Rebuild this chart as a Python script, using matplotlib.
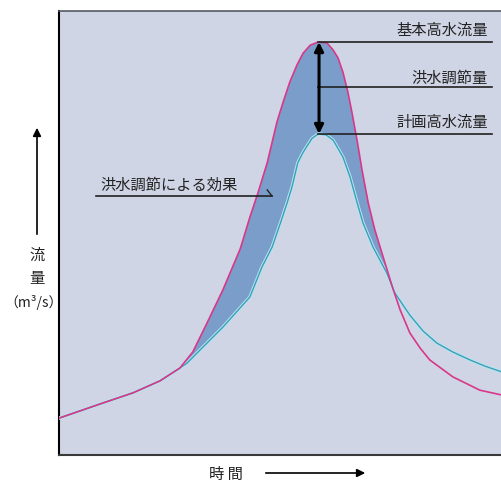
import matplotlib
matplotlib.use('Agg')
import matplotlib.pyplot as plt
import numpy as np

plt.rcParams['font.family'] = ['Noto Sans CJK JP', 'DejaVu Sans']

# basic high-water hydrograph (before flood control)
t_basic = [0.0, 9.3, 16.7, 22.8, 27.3, 30.2, 33.4, 37.0, 40.9, 43.1, 44.9, 47.0,
           49.2, 50.6, 52.1, 53.7, 55.1, 56.7, 58.5, 60.5, 61.9, 63.0, 64.1, 65.2,
           66.1, 66.8, 67.3, 68.4, 69.8, 71.3, 73.6, 75.4, 77.0, 79.2, 81.5, 83.7,
           88.9, 95.0, 100.0]
q_basic = [8.3, 11.5, 14.0, 16.7, 19.6, 23.2, 29.7, 37.2, 46.4, 53.6, 59.0, 65.8,
           75.0, 79.5, 84.0, 87.8, 90.5, 92.3, 93.0, 92.8, 91.2, 89.4, 86.2, 81.8,
           77.3, 73.5, 70.8, 64.2, 56.8, 50.7, 43.2, 37.4, 32.7, 27.5, 24.1, 21.4,
           17.6, 14.6, 13.5]

# planned high-water hydrograph (after flood control)
t_plan = [0.0, 9.3, 16.7, 22.8, 27.3, 28.9, 31.8, 37.0, 43.1, 45.8, 48.1, 50.0,
          51.5, 52.6, 53.9, 55.0, 56.0, 57.1, 58.5, 60.3, 61.9, 64.1, 65.7, 67.3,
          68.6, 70.9, 74.0, 75.8, 79.2, 82.2, 85.3, 88.9, 92.8, 96.2, 100.0]
q_plan = [8.3, 11.5, 14.0, 16.7, 19.6, 20.7, 23.6, 28.8, 35.6, 42.3, 46.8, 52.3,
          56.8, 60.4, 65.8, 68.0, 69.6, 71.3, 72.3, 72.1, 70.9, 67.1, 62.6, 56.8,
          52.3, 46.8, 41.0, 36.5, 31.5, 27.9, 25.2, 23.2, 21.4, 20.0, 18.7]

t_cross = 75.4  # where the two curves meet on the falling limb

label_basic = '基本高水流量'
label_control = '洪水調節量'
label_plan = '計画高水流量'
label_effect = '洪水調節による効果'

t_basic = np.array(t_basic)
q_basic = np.array(q_basic)
t_plan = np.array(t_plan)
q_plan = np.array(q_plan)

fig = plt.figure(figsize=(5.02, 4.84), dpi=100)
fig.patch.set_facecolor('white')
ax = fig.add_axes([59 / 502, 29 / 484, 443 / 502, 444 / 484])
ax.set_facecolor('#d0d5e5')
ax.set_xlim(0, 100)
ax.set_ylim(0, 100)
ax.set_xticks([])
ax.set_yticks([])
ax.spines['right'].set_visible(False)
ax.spines['left'].set_color('black')
ax.spines['left'].set_linewidth(1.5)
ax.spines['bottom'].set_color('#3a3a3a')
ax.spines['bottom'].set_linewidth(1.5)
ax.spines['top'].set_color('#555a66')
ax.spines['top'].set_linewidth(1.2)

# shaded area = effect of flood control
mb = t_basic <= t_cross
mp = t_plan <= t_cross
poly_t = np.concatenate([t_basic[mb], t_plan[mp][::-1]])
poly_q = np.concatenate([q_basic[mb], q_plan[mp][::-1]])
ax.fill(poly_t, poly_q, color='#7b9dca', lw=0, zorder=2)

ax.plot(t_plan, q_plan, color='#b8e4f0', lw=2.4, zorder=3)
ax.plot(t_plan, q_plan, color='#3a9fb8', lw=1.0, zorder=4)
ax.plot(t_basic, q_basic, color='#d8388a', lw=1.2, zorder=5)

# annotations on the right
peak_t = t_basic[np.argmax(q_basic)]
q_top = q_basic.max()
q_bot = q_plan.max()
q_mid = 82.9
ax.plot([peak_t, 97.7], [q_top, q_top], color='#222222', lw=1.2, zorder=6)
ax.plot([peak_t, 97.7], [q_mid, q_mid], color='#222222', lw=1.2, zorder=6)
ax.plot([peak_t, 97.7], [q_bot, q_bot], color='#222222', lw=1.2, zorder=6)
ax.annotate('', xy=(peak_t + 0.2, q_bot), xytext=(peak_t + 0.2, q_top),
            arrowprops=dict(arrowstyle='<|-|>', lw=2.2, color='black',
                            mutation_scale=13, shrinkA=0, shrinkB=0), zorder=7)
ax.text(96.8, 95.7, label_basic, ha='right', va='center', fontsize=11, color='#222222')
ax.text(96.8, 84.9, label_control, ha='right', va='center', fontsize=11, color='#222222')
ax.text(96.8, 75.0, label_plan, ha='right', va='center', fontsize=11, color='#222222')

# effect label with leader line
ax.text(9.3, 60.8, label_effect, ha='left', va='center', fontsize=11, color='#222222')
ax.plot([8.4, 48.1], [58.3, 58.3], color='#222222', lw=1.2, zorder=6)
ax.plot([47.0, 48.1], [59.7, 58.3], color='#222222', lw=1.0, zorder=6)

# axis labels outside the frame
fig.text(37 / 502, 1 - 255 / 484, '流', ha='center', va='center', fontsize=11, color='#222222')
fig.text(37 / 502, 1 - 278 / 484, '量', ha='center', va='center', fontsize=11, color='#222222')
fig.text(34 / 502, 1 - 302 / 484, '（m³/s）', ha='center', va='center', fontsize=10, color='#222222')
fig.add_artist(matplotlib.patches.FancyArrowPatch(
    (37 / 502, 1 - 237 / 484), (37 / 502, 1 - 125 / 484), transform=fig.transFigure,
    arrowstyle='-|>', mutation_scale=12, lw=1.2, color='black'))

fig.text(226 / 502, 1 - 474 / 484, '時 間', ha='center', va='center', fontsize=11, color='#222222')
fig.add_artist(matplotlib.patches.FancyArrowPatch(
    (263 / 502, 1 - 473 / 484), (368 / 502, 1 - 473 / 484), transform=fig.transFigure,
    arrowstyle='-|>', mutation_scale=12, lw=1.2, color='black'))

fig.savefig('out.png', dpi=100)
